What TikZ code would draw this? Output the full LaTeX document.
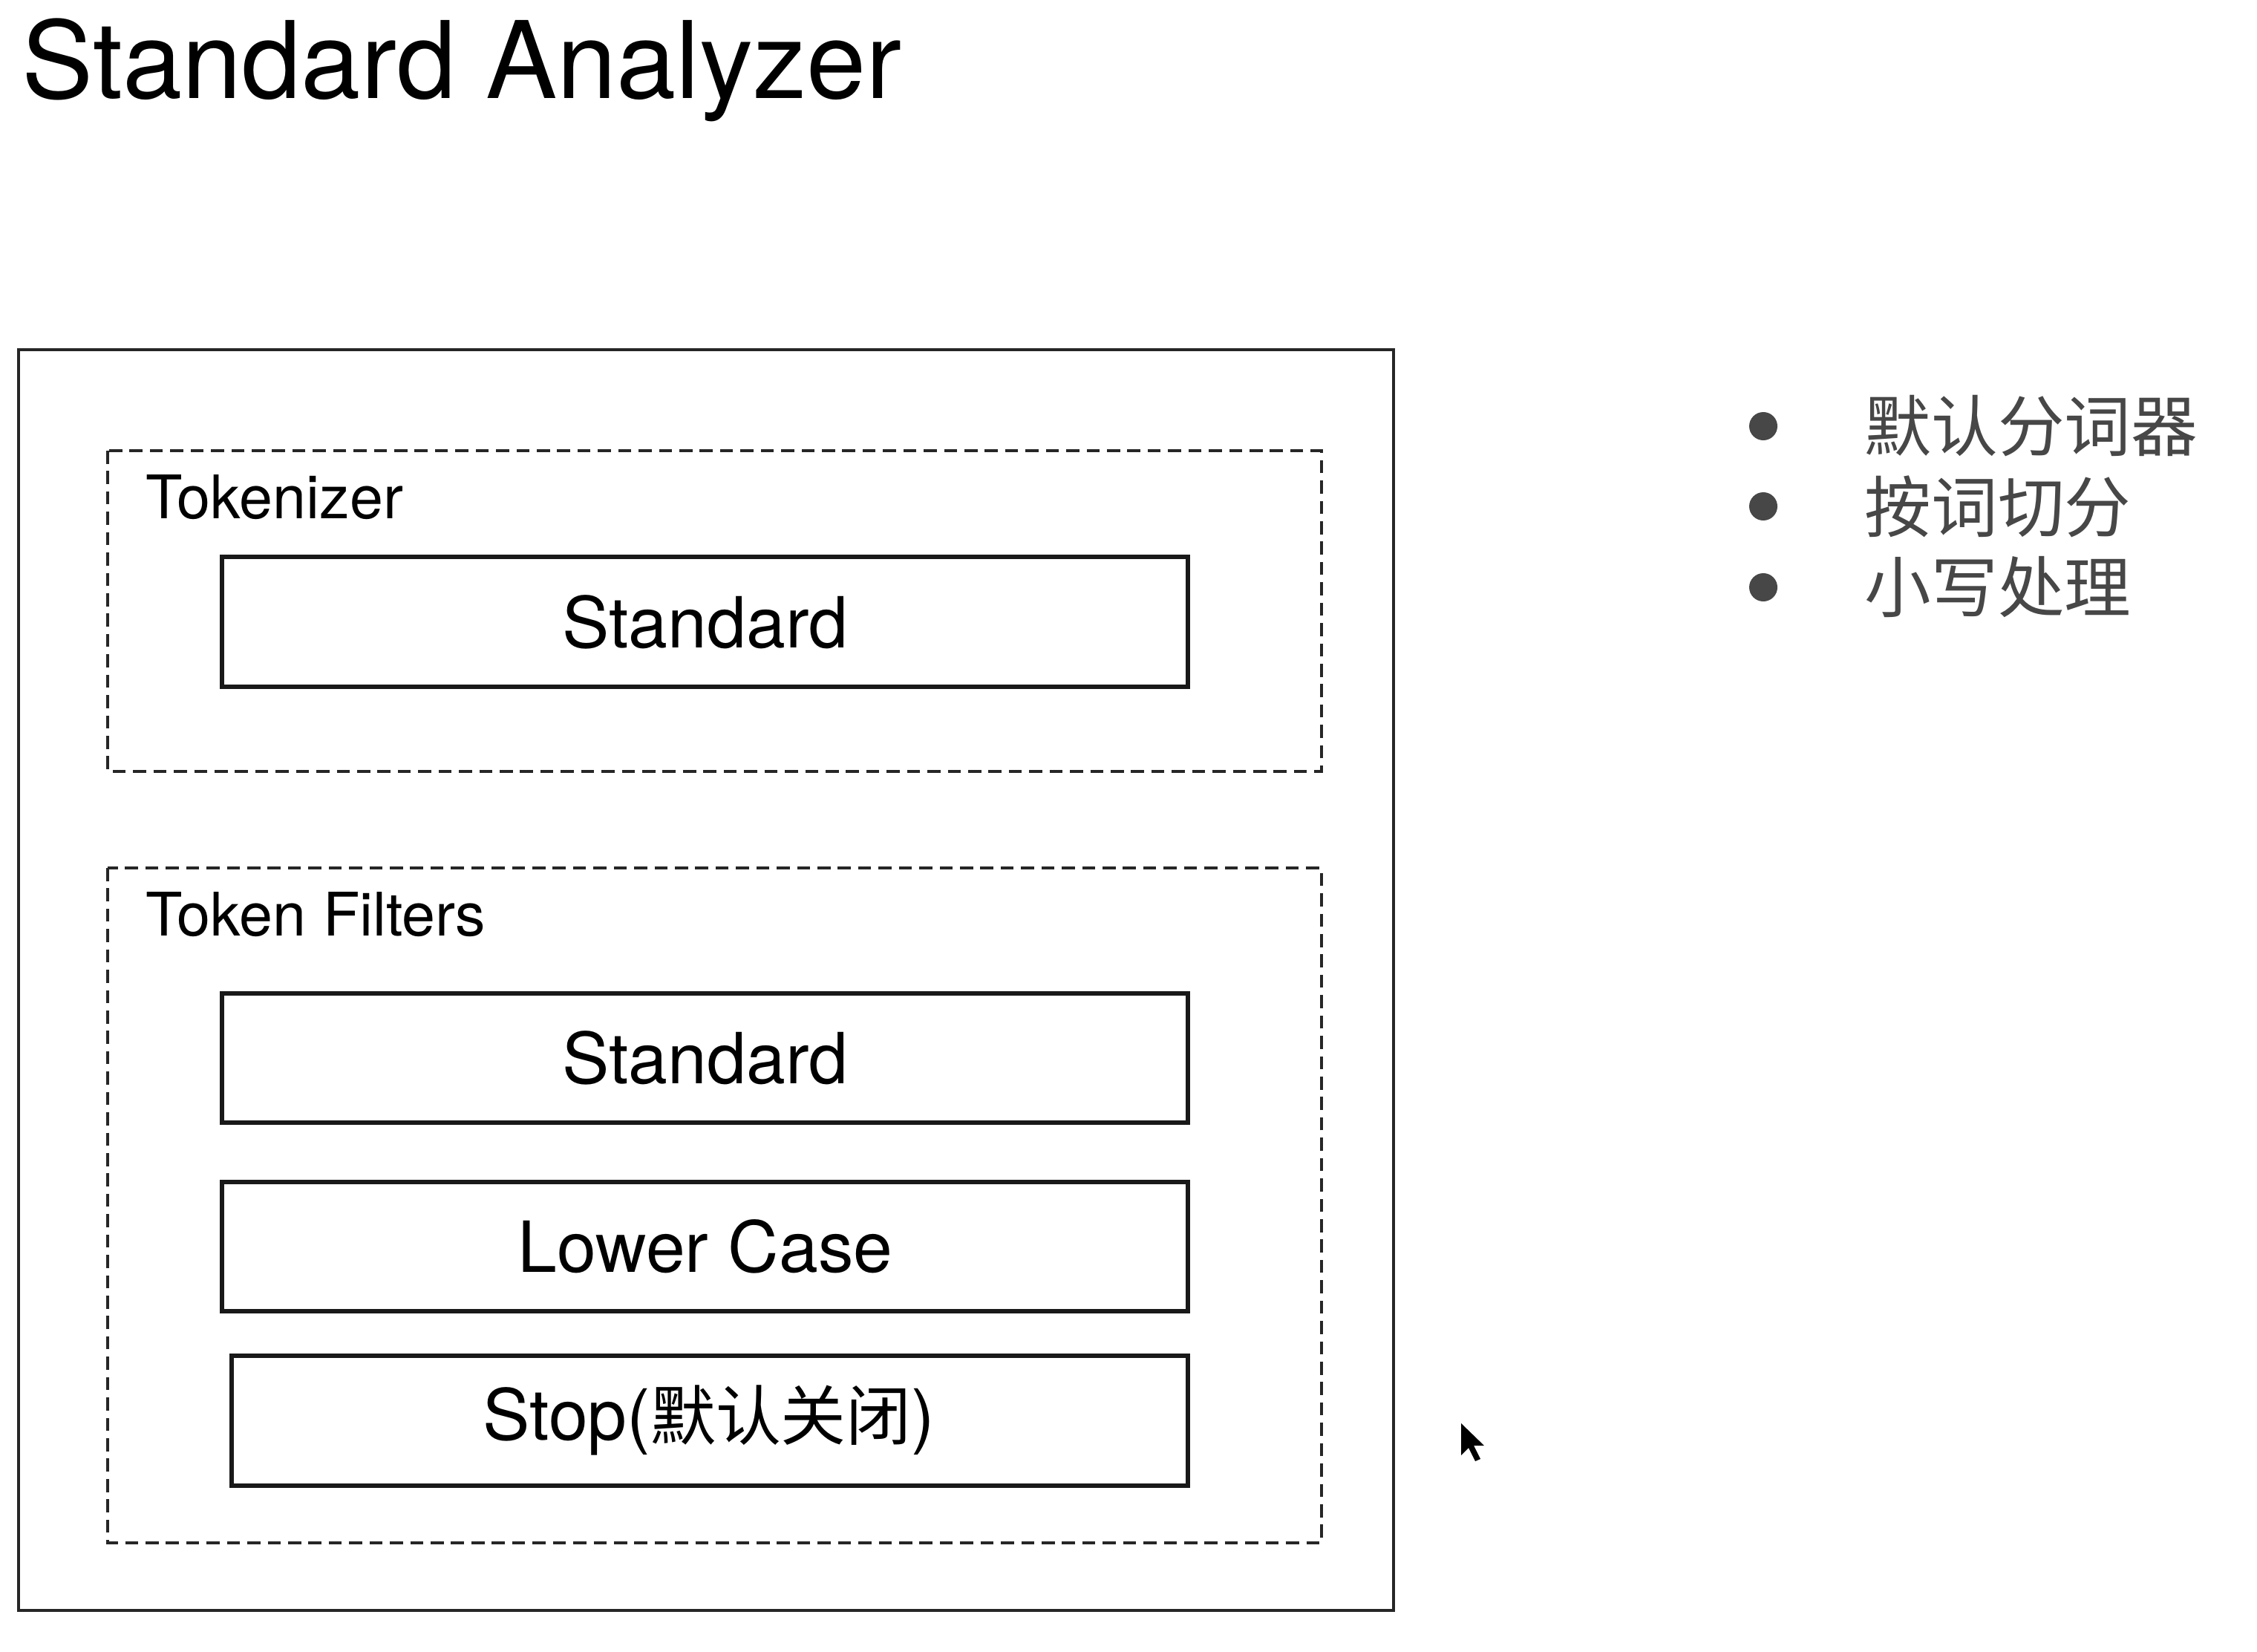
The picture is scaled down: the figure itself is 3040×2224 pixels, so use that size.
\documentclass[tikz,border=0pt]{standalone}
\usepackage{fontspec}
\setmainfont{TeX Gyre Heros}
\newfontfamily\cjk{Noto Sans CJK SC}
\begin{document}
\begin{tikzpicture}[x=0.01cm,y=-0.01cm,
  outerbox/.style={draw=black!85,line width=1.1pt},
  groupbox/.style={draw=black!85,line width=1.4pt,dash pattern=on 5pt off 2.8pt},
  stagebox/.style={draw=black!90,line width=1.5pt,minimum height=0},
  stagetext/.style={font=\fontsize{27}{32}\selectfont},
  grouplabel/.style={anchor=base west,inner sep=0,font=\fontsize{23}{27}\selectfont},
  dot/.style={circle,fill=black!72,inner sep=0,minimum size=0.38cm},
  note/.style={anchor=west,inner sep=0,text=black!72,font=\cjk\fontsize{25.5}{30}\selectfont}]
  \useasboundingbox[fill=white] (0,0) rectangle (3040,2224);

  % title
  \node[anchor=base west,inner sep=0,font=\fontsize{41}{48}\selectfont] (title) at (29,132) {Standard Analyzer};

  % analyzer frame
  \draw[outerbox] (25,471) rectangle (1877,2169);

  % tokenizer group
  \draw[groupbox] (145,607) rectangle (1780,1039);
  \node[grouplabel] (toklabel) at (196,698) {Tokenizer};
  \draw[stagebox] (299,750) rectangle (1600,925);
  \node[stagetext] (tokstd) at (950,838) {Standard};

  % token filter group
  \draw[groupbox] (145,1169) rectangle (1780,2078);
  \node[grouplabel] (filtlabel) at (196,1260) {Token Filters};
  \draw[stagebox] (299,1338) rectangle (1600,1512);
  \node[stagetext] (filtstd) at (950,1425) {Standard};
  \draw[stagebox] (299,1592) rectangle (1600,1766);
  \node[stagetext] (lower) at (950,1679) {Lower Case};
  \draw[stagebox] (312,1826) rectangle (1600,2001);
  \node[stagetext] (stop) at (955,1913) {Stop({\cjk\fontsize{25}{30}\selectfont 默认关闭})};

  % bullet list
  \node[dot] (b1) at (2375,574) {};
  \node[dot] (b2) at (2375,682) {};
  \node[dot] (b3) at (2375,791) {};
  \node[note] (n1) at (2511,574) {默认分词器};
  \node[note] (n2) at (2511,682) {按词切分};
  \node[note] (n3) at (2511,791) {小写处理};

  % mouse pointer
  \fill[black] (1968,1917) -- (1968,1960) -- (1978,1950) -- (1987,1968) -- (1994,1965)
    -- (1985,1947) -- (1999,1947) -- cycle;
\end{tikzpicture}
\end{document}
